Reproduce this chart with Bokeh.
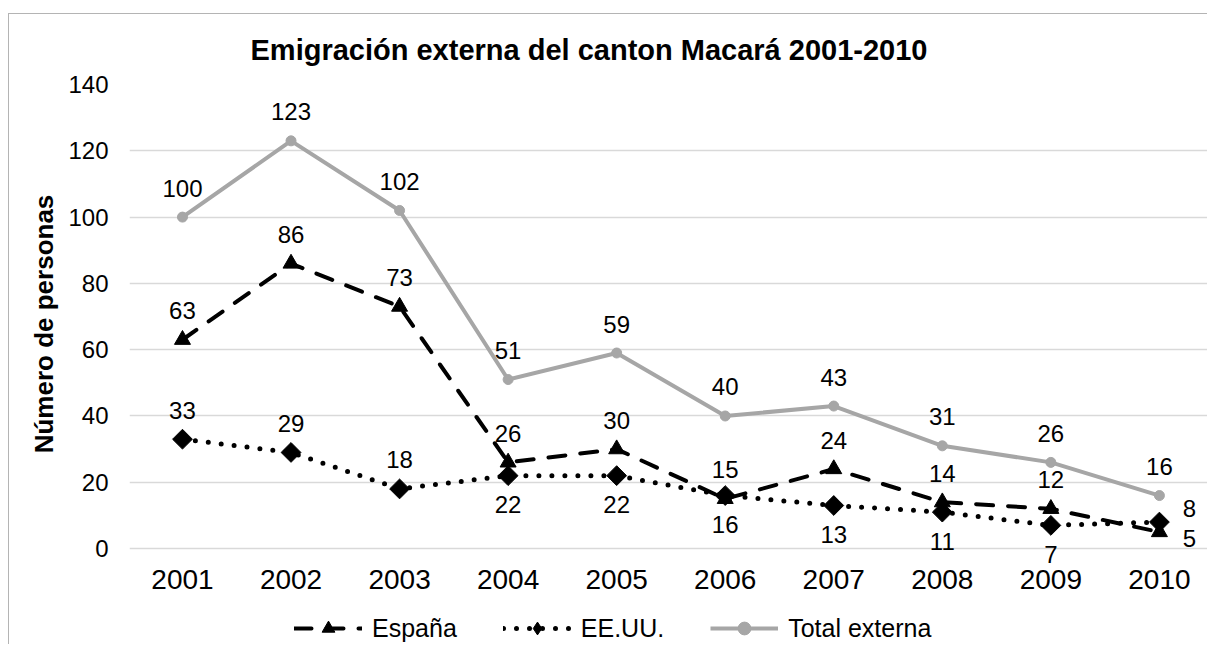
import math
from bokeh.plotting import figure
from bokeh.layouts import column
from bokeh.models import ColumnDataSource, FixedTicker, Legend, LegendItem
from bokeh.core.properties import value
from bokeh.embed import file_html
from bokeh.resources import INLINE

years = [2001, 2002, 2003, 2004, 2005, 2006, 2007, 2008, 2009, 2010]
espana = [63, 86, 73, 26, 30, 15, 24, 14, 12, 5]
eeuu = [33, 29, 18, 22, 22, 16, 13, 11, 7, 8]
total = [100, 123, 102, 51, 59, 40, 43, 31, 26, 16]
y_ticks = [0, 20, 40, 60, 80, 100, 120, 140]

# label placement (style only)
espana_pos = ["above"] * 9 + ["right_low"]
eeuu_pos = ["above"] * 3 + ["below"] * 6 + ["right_high"]
total_pos = ["above"] * 10

OFFS = {"above": (0, -29), "below": (0, 29), "right": (30, 0),
        "right_low": (30, 6), "right_high": (30, -14)}

FONT = "Liberation Sans"
GRAY = "#a6a6a6"
W = 1198

p = figure(width=W, height=584, output_backend="svg", toolbar_location=None,
           x_range=(2000.512, 2010.443), y_range=(-4.5, 140),
           min_border_left=120, min_border_right=0, min_border_top=70,
           min_border_bottom=35)
p.outline_line_color = None
p.background_fill_color = "white"
p.border_fill_color = "white"

p.title.text = "Emigración externa del canton Macará 2001-2010"
p.title.text_font = FONT
p.title.text_font_size = "29px"
p.title.text_font_style = "bold"
p.title.text_color = "#000000"
p.title.align = "left"
p.title.vertical_align = "top"
p.title.offset = 121
p.title.standoff = 34

p.xgrid.grid_line_color = None
p.ygrid.grid_line_color = "#d9d9d9"
p.ygrid.grid_line_width = 1.5

p.xaxis.ticker = FixedTicker(ticks=years)
p.yaxis.ticker = FixedTicker(ticks=y_ticks)
for ax in (p.xaxis, p.yaxis):
    ax.axis_line_color = None
    ax.major_tick_line_color = None
    ax.minor_tick_line_color = None
    ax.major_tick_out = 0
    ax.major_tick_in = 0
    ax.minor_tick_out = 0
    ax.major_label_text_font = FONT
    ax.major_label_text_color = "#000000"
p.xaxis.major_label_text_font_size = "28px"
p.yaxis.major_label_text_font_size = "24px"
p.xaxis.major_label_standoff = 6
p.yaxis.major_label_standoff = 21
p.yaxis.axis_label = "Número de personas"
p.yaxis.axis_label_text_font = FONT
p.yaxis.axis_label_text_font_size = "26px"
p.yaxis.axis_label_text_font_style = "bold"
p.yaxis.axis_label_text_color = "#000000"
p.yaxis.axis_label_standoff = 6

src = ColumnDataSource(dict(x=years, esp=espana, usa=eeuu, tot=total))

ESP = dict(line=dict(line_color="black", line_width=4, line_dash="17 15", line_cap="round"),
           mark=dict(marker="triangle", size=16, fill_color="black", line_color="black"))
USA = dict(line=dict(line_color="black", line_width=5, line_dash="0 13", line_cap="round"),
           mark=dict(marker="square", size=14, angle=math.pi / 4,
                     fill_color="black", line_color="black"))
USA_LEG = dict(line=USA["line"],
               mark=dict(marker="diamond", size=16, fill_color="black", line_color="black"))
TOT = dict(line=dict(line_color=GRAY, line_width=4),
           mark=dict(marker="circle", size=10, fill_color=GRAY, line_color=GRAY))


def series(fig, col, st):
    l = fig.line("x", col, source=src, **st["line"])
    m = fig.scatter("x", col, source=src, **st["mark"])
    return [l, m]


series(p, "esp", ESP)
series(p, "usa", USA)
series(p, "tot", TOT)


def labels(vals, pos):
    d = dict(x=years, y=vals, t=[str(v) for v in vals],
             xo=[OFFS[k][0] for k in pos], yo=[OFFS[k][1] for k in pos])
    s = ColumnDataSource(d)
    p.text("x", "y", text="t", x_offset="xo", y_offset="yo", source=s,
           text_font=value(FONT), text_font_size="24px", text_color="black",
           text_align="center", text_baseline="middle")


labels(total, total_pos)
labels(espana, espana_pos)
labels(eeuu, eeuu_pos)

# legend strip (its renderers sit outside its visible range)
lf = figure(width=W, height=46, output_backend="svg", toolbar_location=None,
            x_range=(2000.512, 2010.443), y_range=(-1000, -999),
            x_axis_location=None, y_axis_location=None,
            min_border_left=0, min_border_right=0, min_border_top=0, min_border_bottom=0)
lf.outline_line_color = None
lf.grid.grid_line_color = None
lf.border_fill_color = "white"

r_esp = series(lf, "esp", ESP)
r_usa = series(lf, "usa", USA_LEG)
r_tot = series(lf, "tot", TOT)

legend = Legend(items=[
    LegendItem(label="España", renderers=r_esp),
    LegendItem(label="EE.UU.", renderers=r_usa),
    LegendItem(label="Total externa", renderers=r_tot),
], orientation="horizontal", location=(165, 0), glyph_width=68, glyph_height=32,
    label_standoff=10, spacing=46, padding=0, margin=0,
    border_line_color=None, background_fill_alpha=0,
    label_text_font=FONT, label_text_font_size="25px", label_text_color="black")
lf.add_layout(legend, "center")

layout = column(p, lf, spacing=0)
layout.styles = {"border-left": "1.5px solid #b4b4b4", "border-top": "1.5px solid #b4b4b4",
                 "margin-top": "13px", "margin-left": "8px"}

open("out.html", "w").write(file_html(layout, INLINE))
